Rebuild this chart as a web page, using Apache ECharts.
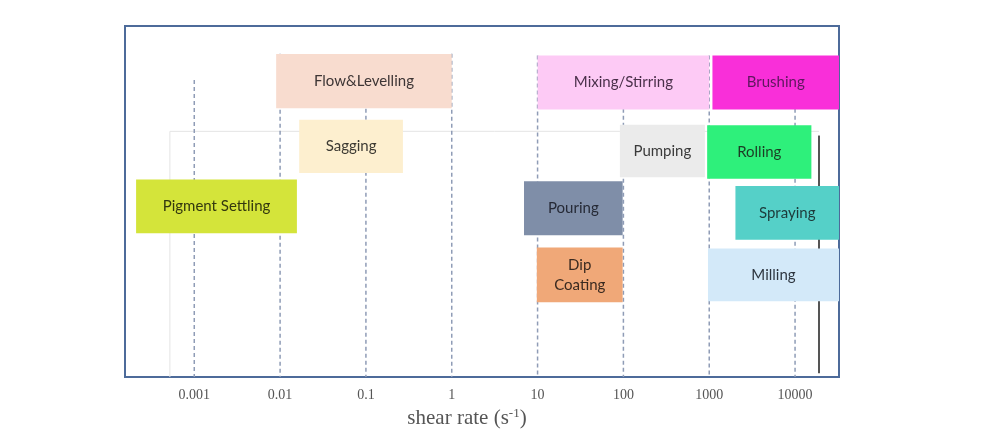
<!DOCTYPE html>
<html><head><meta charset="utf-8">
<script src="https://cdn.jsdelivr.net/npm/echarts@6/dist/echarts.min.js"></script>
<style>html,body{margin:0;padding:0;background:#fff}#c{width:1005px;height:434px}</style>
</head><body><div id="c"></div>
<script>
// axis ticks (shear rate, s^-1)
const tickRates = [0.001, 0.01, 0.1, 1, 10, 100, 1000, 10000];
const tickLabels = ['0.001', '0.01', '0.1', '1', '10', '100', '1000', '10000'];
// dashed guide lines at each decade: top height (0..100 vertical units)
const guideTops = [84.6, 92.1, 76.4, 92.1, 91.6, 76.4, 91.6, 76.4];

// processes: shear rate range and vertical band (0..100 units)
const taskNames = ['Flow&Levelling', 'Sagging', 'Pigment Settling', 'Mixing/Stirring', 'Brushing',
  'Pumping', 'Rolling', 'Pouring', 'Spraying', 'Dip\nCoating', 'Milling'];
const rateLow = [0.009, 0.0167, 0.00021, 10, 1090, 91, 946, 6.95, 2020, 9.8, 967];
const rateHigh = [1, 0.27, 0.0157, 1000, 32500, 890, 15500, 98, 32500, 98, 32500];
const bandTop = [92.0, 73.3, 56.3, 91.6, 91.6, 71.9, 71.7, 55.8, 54.4, 36.9, 36.6];
const bandBottom = [76.6, 58.1, 41.0, 76.2, 76.2, 56.9, 56.5, 40.4, 39.1, 21.3, 21.6];

// faint construction lines seen in the figure
const innerLineRates = [0.00052, 0.00052, 19000];
const innerLineHeights = [0, 70.0, 70.0];
const darkLineRates = [19000, 19000];
const darkLineHeights = [68.8, 1.1];

const fillColors = ['#f8dccf', '#fdefcf', '#d4e43a', '#fdcaf5', '#f92fd9', '#ebebeb',
  '#2ef07b', '#7f8ea8', '#55d0c8', '#f0a878', '#d3e9f9'];
const textColors = ['#3d3535', '#3d3a33', '#33380f', '#4a304a', '#5e175e', '#3a3a3a',
  '#1d3d25', '#262a36', '#1d3a3a', '#3a2a20', '#2e3640'];

const lg = v => Math.log10(v);
const XMIN = -3.807, XMAX = 4.512;

const barData = taskNames.map((n, i) => [lg(rateLow[i]), lg(rateHigh[i]), bandBottom[i], bandTop[i], i]);
const guideData = tickRates.map((r, i) => [lg(r), guideTops[i]]);

const chart = echarts.init(document.getElementById('c'));
chart.setOption({
  animation: false,
  grid: { left: 125, right: 166, top: 26, bottom: 52, show: true, borderColor: '#4d6b9a', borderWidth: 2, backgroundColor: 'transparent' },
  xAxis: {
    type: 'value', min: XMIN, max: XMAX,
    axisLine: { show: true, lineStyle: { color: '#4d6b9a', width: 2 } },
    axisTick: { show: false },
    splitLine: { show: false },
    axisLabel: {
      customValues: tickRates.map(lg),
      formatter: v => { const k = tickRates.findIndex(r => Math.abs(lg(r) - v) < 1e-6); return k >= 0 ? tickLabels[k] : ''; },
      fontFamily: 'Liberation Serif', fontSize: 14, color: '#555', margin: 11
    },
    name: '{a|shear rate (s}{s|-1}{a|)}',
    nameLocation: 'middle', nameGap: 22,
    nameTextStyle: {
      padding: [0, 30, 0, 0],
      rich: {
        a: { fontFamily: 'Liberation Serif', fontSize: 21, color: '#555' },
        s: { fontFamily: 'Liberation Serif', fontSize: 13, color: '#555', padding: [0, 0, 10, 0] }
      }
    }
  },
  yAxis: { type: 'value', min: 0, max: 100, show: false, splitLine: { show: false } },
  series: [
    {
      type: 'line', data: innerLineRates.map((r, i) => [lg(r), innerLineHeights[i]]),
      symbol: 'none', lineStyle: { color: '#e4e4e4', width: 1 }, z: 1, silent: true
    },
    {
      type: 'line', data: darkLineRates.map((r, i) => [lg(r), darkLineHeights[i]]),
      symbol: 'none', lineStyle: { color: '#555', width: 2 }, z: 1, silent: true
    },
    {
      type: 'custom', z: 2, silent: true, data: guideData,
      renderItem: (params, api) => {
        const p0 = api.coord([api.value(0), api.value(1)]);
        const p1 = api.coord([api.value(0), 0]);
        return { type: 'line', shape: { x1: p0[0], y1: p0[1], x2: p1[0], y2: p1[1] },
          style: { stroke: '#8f9cb6', lineWidth: 1.5, lineDash: [4, 3] } };
      }
    },
    {
      type: 'custom', z: 3, silent: true, data: barData,
      renderItem: (params, api) => {
        const i = api.value(4);
        const a = api.coord([api.value(0), api.value(3)]);
        const b = api.coord([api.value(1), api.value(2)]);
        const cs = params.coordSys;
        const x0 = Math.max(a[0], cs.x), x1 = Math.min(b[0], cs.x + cs.width);
        return { type: 'group', children: [
          { type: 'rect', shape: { x: x0, y: a[1], width: x1 - x0, height: b[1] - a[1] }, style: { fill: fillColors[i] } },
          { type: 'text', style: { text: taskNames[i], x: (x0 + x1) / 2, y: (a[1] + b[1]) / 2, align: 'center', verticalAlign: 'middle',
            fontFamily: 'Lato', fontSize: 15, lineHeight: 20, fill: textColors[i] } }
        ] };
      }
    }
  ]
});
</script></body></html>
